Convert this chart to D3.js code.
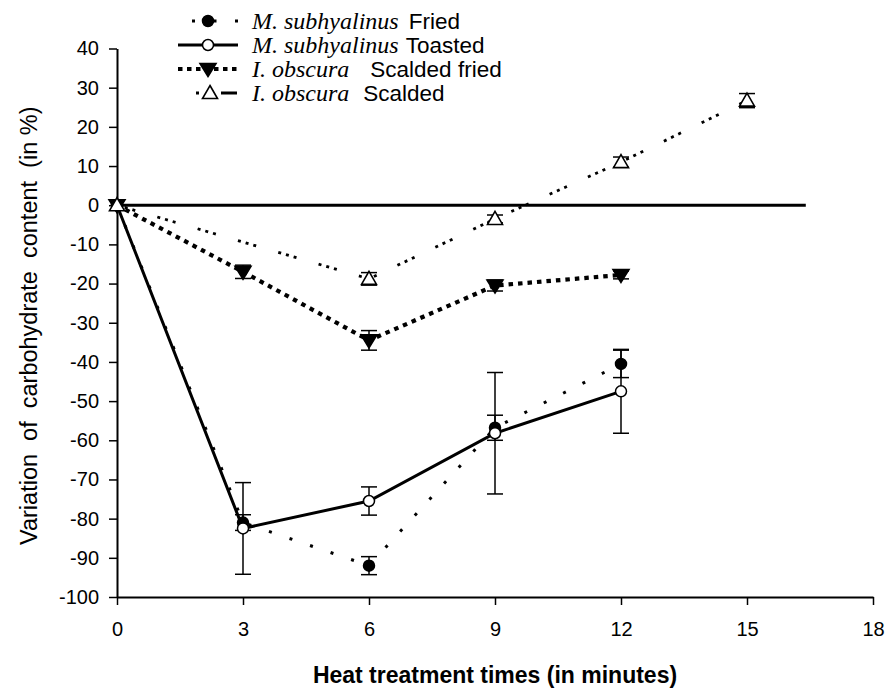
<!DOCTYPE html>
<html>
<head>
<meta charset="utf-8">
<script src="https://cdn.jsdelivr.net/npm/d3@7"></script>
<style>
  html, body { margin: 0; padding: 0; background: #fff; }
  svg { display: block; }
  text { white-space: pre; }
</style>
</head>
<body>
<div id="vis"></div>
<script>
// ---- data ----
var friedTimes = [0, 3, 6, 9, 12];
var friedValues = [0, -81, -92, -56.8, -40.5];
var friedErrors = [0, 2, 2.3, 3.2, 3.5];

var toastedTimes = [0, 3, 6, 9, 12];
var toastedValues = [0, -82.5, -75.5, -58.2, -47.5];
var toastedErrors = [0, 11.7, 3.6, 15.5, 10.7];

var scaldedFriedTimes = [0, 3, 6, 9, 12];
var scaldedFriedValues = [0, -17, -34.5, -20.5, -17.8];
var scaldedFriedErrors = [0, 1.7, 2.5, 1.4, 1];

var scaldedTimes = [0, 6, 9, 12, 15];
var scaldedValues = [0, -18.8, -3.5, 11, 26.7];
var scaldedErrors = [0, 1.6, 1, 1.3, 1.8];

var zeroLineTimes = [0, 16.4];

var xTicks = [0, 3, 6, 9, 12, 15, 18];
var yTicks = [-100, -90, -80, -70, -60, -50, -40, -30, -20, -10, 0, 10, 20, 30, 40];

var legendSpecies = ["M. subhyalinus", "M. subhyalinus", "I. obscura", "I. obscura"];
var legendTreatments = ["Fried", "Toasted", "Scalded fried", "Scalded"];

var sans = '"Liberation Sans", Arial, Helvetica, sans-serif';
var serif = '"Liberation Serif", "Times New Roman", Times, serif';

function zipSeries(times, values, errors) {
    return times.map(function (t, i) { return { t: t, v: values[i], e: errors[i] }; });
}

var series = [
    { key: "fried", points: zipSeries(friedTimes, friedValues, friedErrors),
      width: 3, dash: "3,18.7", marker: "circle", fill: "#000",
      legendFrom: 192, legendDash: "3,18.5", markerAt: 208 },
    { key: "toasted", points: zipSeries(toastedTimes, toastedValues, toastedErrors),
      width: 3, dash: null, marker: "circle", fill: "#fff",
      legendFrom: 178, legendDash: null, markerAt: 208 },
    { key: "scaldedFried", points: zipSeries(scaldedFriedTimes, scaldedFriedValues, scaldedFriedErrors),
      width: 4.2, dash: "4.5,5", marker: "down", fill: "#000",
      legendFrom: 178, legendDash: "4.5,4.5", markerAt: 208 },
    { key: "scalded", points: zipSeries(scaldedTimes, scaldedValues, scaldedErrors),
      width: 2.8, dash: "3,5,3,5,3,23", marker: "up", fill: "#fff",
      legendFrom: 196, legendDash: "3,22,16", markerAt: 210 }
];
var legendGaps = [10, 7, 21, 14];

var W = 896, H = 691;
var svg = d3.select("#vis").append("svg")
    .attr("width", W).attr("height", H)
    .attr("viewBox", "0 0 " + W + " " + H);

var x = d3.scaleLinear().domain([0, 18]).range([117, 873]);
var y = d3.scaleLinear().domain([-100, 40]).range([597, 48.5]);

// plain hyphen for negatives, like the original
var fmt = function (d) { return String(d); };

// axes
var xAxis = svg.append("g")
    .attr("transform", "translate(0," + y(-100) + ")")
    .call(d3.axisBottom(x).tickValues(xTicks).tickFormat(fmt).tickSize(8).tickSizeOuter(0).tickPadding(17));
var yAxis = svg.append("g")
    .attr("transform", "translate(" + x(0) + ",0)")
    .call(d3.axisLeft(y).tickValues(yTicks).tickFormat(fmt).tickSize(8).tickSizeOuter(0).tickPadding(10));

[xAxis, yAxis].forEach(function (ax) {
    ax.select(".domain").attr("stroke", "#000").attr("stroke-width", 2);
    ax.selectAll(".tick line").attr("stroke", "#000").attr("stroke-width", 1.5);
    ax.selectAll(".tick text")
        .attr("fill", "#000")
        .style("font-family", sans)
        .style("font-size", "20px");
});

// axis titles
svg.append("text")
    .attr("x", x(9)).attr("y", 683)
    .attr("text-anchor", "middle")
    .style("font-family", sans).style("font-size", "23px").style("font-weight", "bold")
    .text("Heat treatment times (in minutes)");

svg.append("text")
    .attr("transform", "translate(37," + (y(-30) + 3) + ") rotate(-90)")
    .attr("text-anchor", "middle")
    .style("font-family", sans).style("font-size", "23.5px")
    .text("Variation  of  carbohydrate  content  (in %)");

// zero reference line
svg.append("line")
    .attr("x1", x(zeroLineTimes[0])).attr("x2", x(zeroLineTimes[1]))
    .attr("y1", y(0)).attr("y2", y(0))
    .attr("stroke", "#000").attr("stroke-width", 3);

var line = d3.line().x(function (d) { return x(d.t); }).y(function (d) { return y(d.v); });

// lines
series.forEach(function (s) {
    svg.append("path")
        .datum(s.points)
        .attr("d", line)
        .attr("fill", "none")
        .attr("stroke", "#000")
        .attr("stroke-width", s.width)
        .attr("stroke-dasharray", s.dash);
});

// error bars
series.forEach(function (s) {
    var g = svg.append("g").attr("stroke", "#000").attr("stroke-width", 1.5);
    var pts = s.points.filter(function (d) { return d.e > 0; });
    g.selectAll("line.v").data(pts).enter().append("line")
        .attr("x1", function (d) { return x(d.t); })
        .attr("x2", function (d) { return x(d.t); })
        .attr("y1", function (d) { return y(d.v + d.e); })
        .attr("y2", function (d) { return y(d.v - d.e); });
    [1, -1].forEach(function (sign) {
        g.selectAll(null).data(pts).enter().append("line")
            .attr("x1", function (d) { return x(d.t) - 8; })
            .attr("x2", function (d) { return x(d.t) + 8; })
            .attr("y1", function (d) { return y(d.v + sign * d.e); })
            .attr("y2", function (d) { return y(d.v + sign * d.e); });
    });
});

function markerPath(type) {
    if (type === "up") return "M0,-7.5L7.5,5.5L-7.5,5.5Z";
    if (type === "down") return "M0,7.5L8,-5.5L-8,-5.5Z";
    return null;
}

function drawMarker(sel, s) {
    if (s.marker === "circle") {
        sel.append("circle").attr("r", 5.5)
            .attr("fill", s.fill).attr("stroke", "#000").attr("stroke-width", 1.5);
    } else {
        sel.append("path").attr("d", markerPath(s.marker))
            .attr("fill", s.fill).attr("stroke", "#000").attr("stroke-width", 1.6)
            .attr("stroke-linejoin", "miter");
    }
}

// markers
series.forEach(function (s) {
    svg.append("g").selectAll("g").data(s.points).enter().append("g")
        .attr("transform", function (d) { return "translate(" + x(d.t) + "," + y(d.v) + ")"; })
        .each(function () { drawMarker(d3.select(this), s); });
});

// legend
var legend = svg.append("g");
series.forEach(function (s, i) {
    var cy = 21 + i * 24;
    var row = legend.append("g");
    row.append("line")
        .attr("x1", s.legendFrom).attr("x2", 238)
        .attr("y1", cy).attr("y2", cy)
        .attr("stroke", "#000").attr("stroke-width", s.width)
        .attr("stroke-dasharray", s.legendDash);
    var m = row.append("g").attr("transform", "translate(" + s.markerAt + "," + cy + ")");
    drawMarker(m, s);
    var t = row.append("text").attr("x", 252).attr("y", cy + 8);
    t.append("tspan")
        .style("font-family", serif).style("font-style", "italic").style("font-size", "24px")
        .text(legendSpecies[i]);
    t.append("tspan")
        .attr("dx", legendGaps[i])
        .style("font-family", sans).style("font-size", "22.5px")
        .text(legendTreatments[i]);
});
</script>
</body>
</html>
